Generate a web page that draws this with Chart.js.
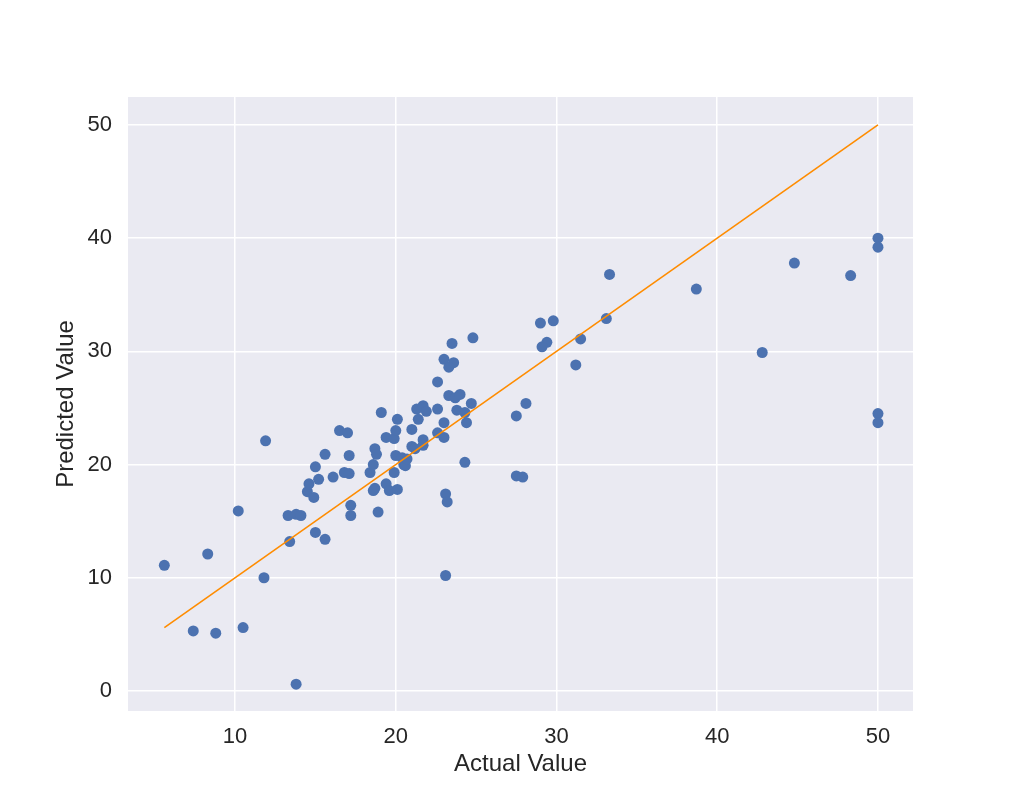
<!DOCTYPE html>
<html>
<head>
<meta charset="utf-8">
<script src="https://cdn.jsdelivr.net/npm/chart.js@4/dist/chart.umd.min.js"></script>
<style>
  html, body { margin: 0; padding: 0; background: #ffffff; }
  #wrap { width: 1017px; height: 800px; }
</style>
</head>
<body>
<div id="wrap"><canvas id="scatter" width="1017" height="800"></canvas></div>
<script>
// actual vs predicted values
var actual = [
    5.6, 7.4, 8.3, 8.8, 10.2, 10.5, 11.8, 11.9, 13.3, 13.4,
    13.8, 14.1, 13.8, 14.5, 14.6, 14.9, 15.0, 15.0, 15.2, 15.6,
    15.6, 16.1, 16.5, 16.8, 17.0, 17.1, 17.1, 17.2, 17.2, 18.4,
    18.6, 18.7, 18.8, 18.7, 18.6, 18.9, 19.1, 19.4, 19.4, 19.6,
    19.9, 19.9, 20.0, 20.0, 20.1, 20.1, 20.4, 20.5, 20.6, 20.7,
    21.0, 21.0, 21.2, 21.3, 21.4, 21.7, 21.9, 21.7, 21.7, 22.6,
    22.6, 22.6, 23.0, 23.0, 23.0, 23.5, 23.6, 23.3, 23.3, 23.7,
    24.0, 23.8, 24.3, 24.4, 24.7, 24.8, 24.3, 23.1, 23.2, 23.1,
    27.5, 28.1, 27.5, 27.9, 29.0, 29.8, 29.4, 29.1, 31.5, 31.2,
    33.1, 33.3, 38.7, 42.8, 44.8, 48.3, 50.0, 50.0, 50.0, 50.0
]
var predicted = [
    11.1, 5.3, 12.1, 5.1, 15.9, 5.6, 10.0, 22.1, 15.5, 13.2,
    15.6, 15.5, 0.6, 17.6, 18.3, 17.1, 19.8, 14.0, 18.7, 20.9,
    13.4, 18.9, 23.0, 19.3, 22.8, 19.2, 20.8, 16.4, 15.5, 19.3,
    20.0, 21.4, 20.9, 17.9, 17.7, 15.8, 24.6, 22.4, 18.3, 17.7,
    22.3, 19.3, 23.0, 20.8, 24.0, 17.8, 20.6, 20.0, 19.9, 20.5,
    23.1, 21.6, 21.4, 24.9, 24.0, 25.2, 24.7, 22.2, 21.7, 27.3,
    24.9, 22.8, 23.7, 22.4, 29.3, 30.7, 29.0, 28.6, 26.1, 25.9,
    26.2, 24.8, 24.6, 23.7, 25.4, 31.2, 20.2, 17.4, 16.7, 10.2,
    24.3, 25.4, 19.0, 18.9, 32.5, 32.7, 30.8, 30.4, 31.1, 28.8,
    32.9, 36.8, 35.5, 29.9, 37.8, 36.7, 40.0, 39.2, 24.5, 23.7
]

// reference line y = x, from smallest to largest actual value
var lineX = [5.6, 50.0]
var lineY = [5.6, 50.0]

var xTicks = [10, 20, 30, 40, 50]
var yTicks = [0, 10, 20, 30, 40, 50]

var points = actual.map((a, i) => ({ x: a, y: predicted[i] }))
var linePoints = lineX.map((a, i) => ({ x: a, y: lineY[i] }))

var textColor = '#262626'
var fontFamily = "'Liberation Sans', Arial, sans-serif"
var tickFont = { family: fontFamily, size: 22 }
var titleFont = { family: fontFamily, size: 24 }

// seaborn-like grey plot background
var plotBackground = {
    id: 'plotBackground',
    beforeDraw(chart) {
        var a = chart.chartArea
        var ctx = chart.ctx
        ctx.save()
        ctx.fillStyle = '#EAEAF2'
        ctx.fillRect(a.left, a.top, a.right - a.left, a.bottom - a.top)
        ctx.restore()
    }
}

window.onload = function() {
    var ctx = document.getElementById('scatter').getContext('2d')
    new Chart(ctx, {
        type: 'scatter',
        data: {
            datasets: [{
                type: 'line',
                data: linePoints,
                borderColor: '#FF8C00',
                borderWidth: 1.6,
                pointRadius: 0,
                fill: false,
                order: 0
            }, {
                data: points,
                backgroundColor: '#4C72B0',
                borderWidth: 0,
                pointRadius: 5.5,
                pointHoverRadius: 5.5,
                order: 1
            }]
        },
        options: {
            responsive: false,
            animation: false,
            layout: { padding: { left: 52, top: 97, right: 104, bottom: 21 } },
            plugins: {
                legend: { display: false },
                tooltip: { enabled: false }
            },
            scales: {
                x: {
                    type: 'linear',
                    min: 3.34,
                    max: 52.18,
                    afterBuildTicks: s => { s.ticks = xTicks.map(v => ({ value: v })) },
                    afterFit: s => { s.height = 68 },
                    border: { display: false },
                    grid: { color: '#ffffff', lineWidth: 1.5, drawTicks: false },
                    ticks: { color: textColor, font: tickFont, padding: 13, maxRotation: 0 },
                    title: { display: true, text: 'Actual Value', color: textColor, font: titleFont, padding: 0 }
                },
                y: {
                    type: 'linear',
                    min: -1.77,
                    max: 52.47,
                    afterBuildTicks: s => { s.ticks = yTicks.map(v => ({ value: v })) },
                    afterFit: s => { s.width = 76 },
                    border: { display: false },
                    grid: { color: '#ffffff', lineWidth: 1.5, drawTicks: false },
                    ticks: { color: textColor, font: tickFont, padding: 16 },
                    title: { display: true, text: 'Predicted Value', color: textColor, font: titleFont, padding: 0 }
                }
            }
        },
        plugins: [plotBackground]
    })
}
</script>
</body>
</html>
